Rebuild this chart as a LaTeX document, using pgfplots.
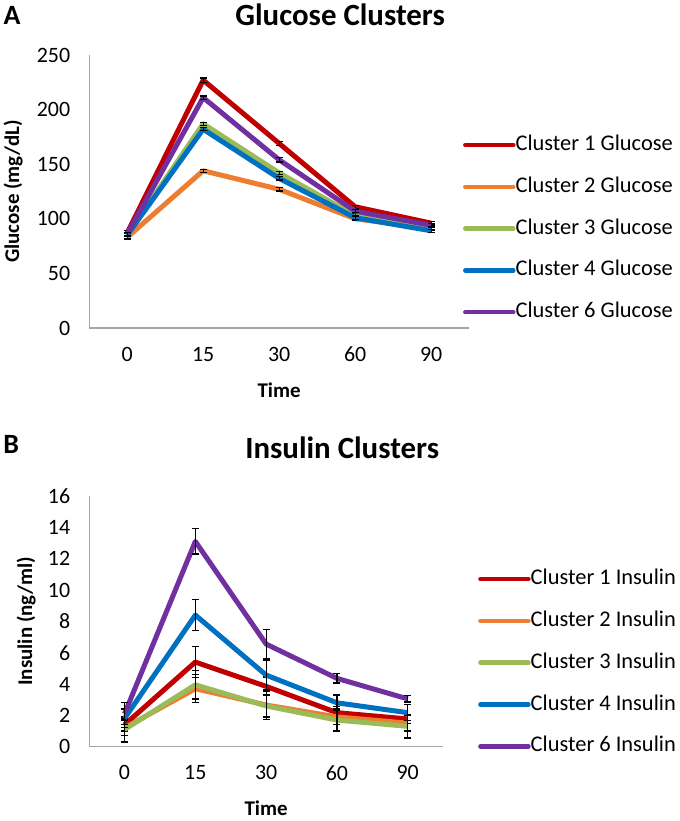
\documentclass[border=0pt]{standalone}
\usepackage{pgfplots}
\pgfplotsset{compat=1.18}
\usepackage{fontspec}
\setmainfont{Carlito}
\definecolor{cA}{HTML}{C00000}
\definecolor{cB}{HTML}{ED7D31}
\definecolor{cC}{HTML}{9BBB59}
\definecolor{cD}{HTML}{0070C0}
\definecolor{cE}{HTML}{7030A0}
\definecolor{axgray}{HTML}{A6A6A6}
\pgfplotsset{
  excel/.style={
    scale only axis,
    axis x line*=bottom, axis y line*=left,
    axis line style={draw=axgray, line width=1.2bp, -},
    major tick length=0pt,
    xmin=-0.5, xmax=4.5,
    xtick={0,1,2,3,4}, xticklabels={0,15,30,60,90},
    /pgf/number format/assume math mode=true,
    tick label style={font=\fontsize{22}{26}\selectfont},
    xticklabel style={yshift=-15.5bp},
    yticklabel style={xshift=-15.5bp},
    label style={font=\bfseries\fontsize{21}{25}\selectfont},
    xlabel style={at={(axis description cs:0.5,0)}, anchor=center, yshift=-62bp},
    ylabel style={anchor=center},
    legend cell align=left,
    legend image code/.code={\draw[#1, line width=4.5bp, line cap=round] (0bp,0bp) -- (48bp,0bp);},
    legend style={draw=none, fill=none, inner sep=0pt, outer sep=0pt,
      font=\fontsize{22.5}{26}\selectfont, row sep=22.8bp,
      nodes={inner sep=0pt, text height=15bp, text depth=4bp},
      /tikz/every even column/.append style={column sep=4bp}},
    every axis plot/.append style={line width=5bp, line join=round, no marks,
      error bars/y dir=both, error bars/y explicit,
      error bars/error bar style={black, line width=1.2bp, line join=miter},
      error bars/error mark options={rotate=90, mark size=3.5bp, line width=1.2bp, black}},
  }
}
\begin{document}
\begin{tikzpicture}[x=1bp,y=1bp]
\path (0,0) rectangle (679,821);
% Panel A
\begin{axis}[excel, at={(89bp,493bp)}, anchor=south west,
  width=380bp, height=273bp,
  ymin=0, ymax=250, ytick={0,50,100,150,200,250},
  xlabel={Time}, ylabel={Glucose (mg/dL)},
  ylabel style={at={(axis description cs:-0.2,0.5)}},
  legend style={at={(axis description cs:0.984,0.364)}, anchor=west}]
\addplot[cA] coordinates {(0,87) +- (0,2) (1,227) +- (0,2) (2,169) +- (0,2) (3,111) +- (0,1.5) (4,96) +- (0,1.5)};
\addlegendentry{Cluster 1 Glucose}
\addplot[cB] coordinates {(0,83) +- (0,1.5) (1,144) +- (0,1.5) (2,127) +- (0,1.5) (3,100) +- (0,1.5) (4,91) +- (0,1.5)};
\addlegendentry{Cluster 2 Glucose}
\addplot[cC] coordinates {(0,85) +- (0,1.5) (1,187) +- (0,1.5) (2,142) +- (0,1.5) (3,103) +- (0,1.5) (4,92) +- (0,1.5)};
\addlegendentry{Cluster 3 Glucose}
\addplot[cD] coordinates {(0,85) +- (0,1.5) (1,182) +- (0,1.5) (2,137) +- (0,1.5) (3,101) +- (0,1.5) (4,89) +- (0,1.5)};
\addlegendentry{Cluster 4 Glucose}
\addplot[cE] coordinates {(0,86) +- (0,1.5) (1,211) +- (0,1.5) (2,154) +- (0,2) (3,107) +- (0,1.5) (4,94) +- (0,1.5)};
\addlegendentry{Cluster 6 Glucose}
\end{axis}
% Panel B
\begin{axis}[excel, at={(89bp,74.3bp)}, anchor=south west,
  width=354bp, height=250.7bp,
  ymin=0, ymax=16, ytick={0,2,4,6,8,10,12,14,16},
  xlabel={Time}, ylabel={Insulin (ng/ml)},
  ylabel style={at={(axis description cs:-0.178,0.5)}},
  legend style={at={(axis description cs:1.099,0.335)}, anchor=west}]
\addplot[cA] coordinates {(0,1.4) +- (0,0.4) (1,5.4) +- (0,1.0) (2,3.85) +- (0,0.6) (3,2.17) +- (0,0.4) (4,1.77) +- (0,0.3)};
\addlegendentry{Cluster 1 Insulin}
\addplot[cB] coordinates {(0,1.2) +- (0,0.5) (1,3.7) +- (0,0.9) (2,2.66) +- (0,0.9) (3,1.9) +- (0,0.5) (4,1.5) +- (0,0.5)};
\addlegendentry{Cluster 2 Insulin}
\addplot[cC] coordinates {(0,1.1) +- (0,0.8) (1,3.95) +- (0,0.9) (2,2.6) +- (0,0.7) (3,1.7) +- (0,0.7) (4,1.3) +- (0,0.75)};
\addlegendentry{Cluster 3 Insulin}
\addplot[cD] coordinates {(0,1.8) +- (0,0.6) (1,8.4) +- (0,1.0) (2,4.57) +- (0,0.95) (3,2.8) +- (0,0.5) (4,2.17) +- (0,0.5)};
\addlegendentry{Cluster 4 Insulin}
\addplot[cE] coordinates {(0,2.1) +- (0,0.7) (1,13.1) +- (0,0.8) (2,6.55) +- (0,0.95) (3,4.36) +- (0,0.3) (4,3.05) +- (0,0.2)};
\addlegendentry{Cluster 6 Insulin}
\end{axis}
% panel letters and titles
\node[font=\bfseries\fontsize{28}{32}\selectfont] at (12,806) {A};
\node[font=\bfseries\fontsize{31}{36}\selectfont] at (340,806) {Glucose Clusters};
\node[font=\bfseries\fontsize{28}{32}\selectfont] at (11,377) {B};
\node[font=\bfseries\fontsize{31}{36}\selectfont] at (342,373) {Insulin Clusters};
\end{tikzpicture}
\end{document}
